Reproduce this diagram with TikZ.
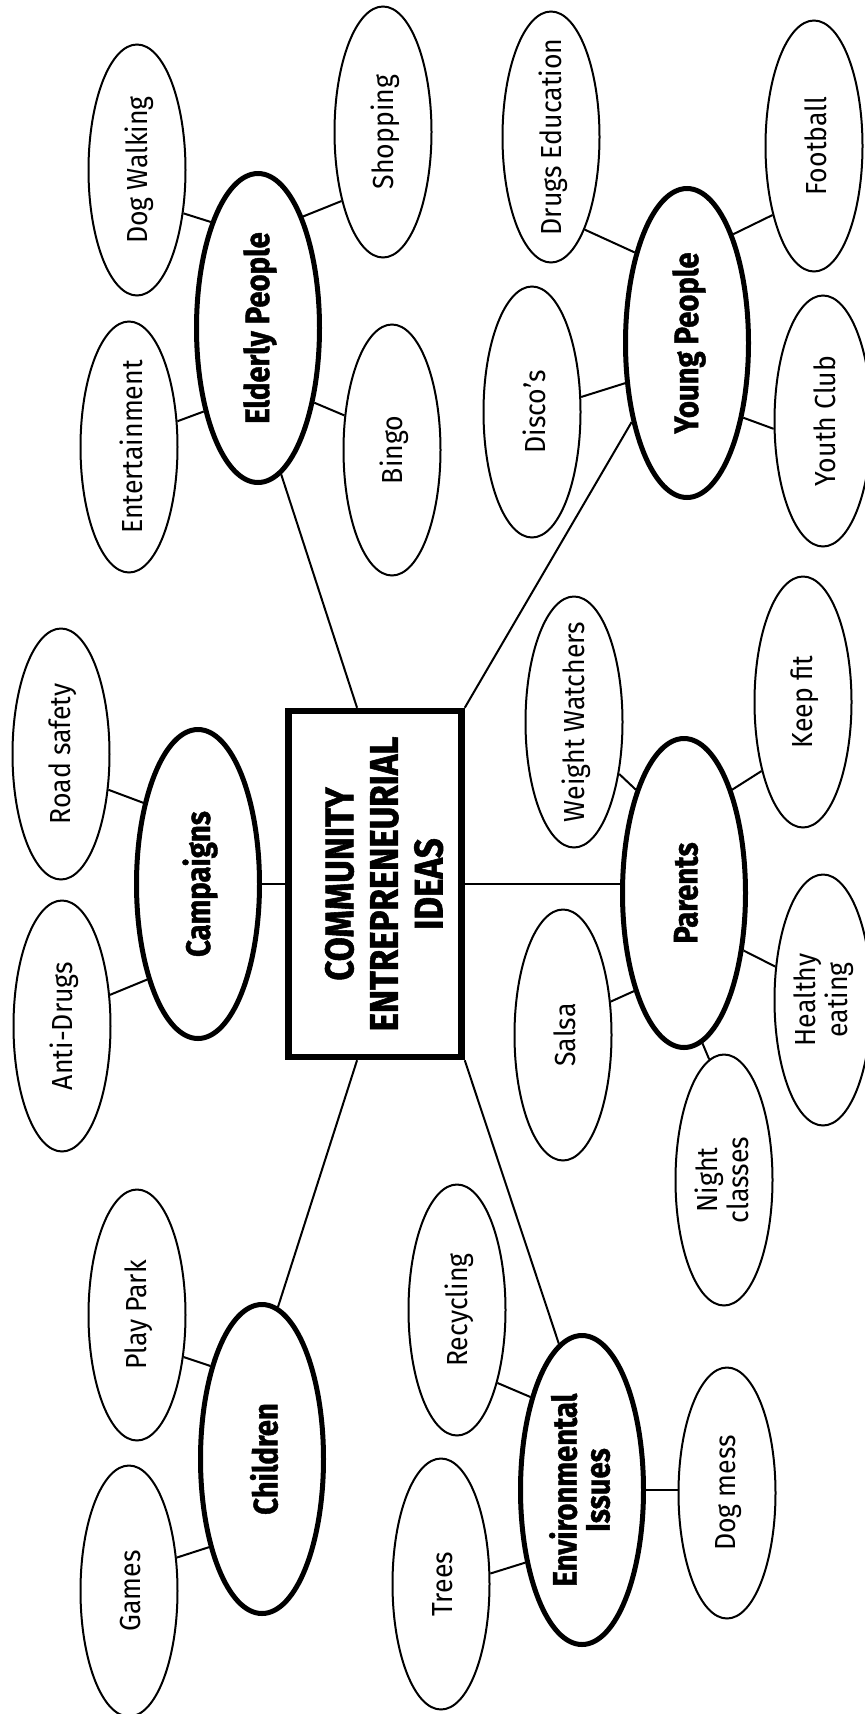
\documentclass[tikz,border=0pt]{standalone}
\usepackage{fontspec}
\usepackage{graphicx}
\setmainfont{Fira Sans}
\newfontfamily\leaffont[FakeStretch=0.92]{Fira Sans}
\newfontfamily\hubfont[FakeStretch=0.86,FakeBold=1.2]{Fira Sans}
\newfontfamily\titlefont[FakeStretch=0.87,FakeBold=1.4]{Fira Sans}
\usetikzlibrary{shapes.geometric,calc}
\newcommand\rtxt[1]{\hspace*{4pt}\rotatebox{90}{\makebox[0pt]{#1}}}
\newcommand\rtwo[2]{\hspace*{4pt}\rotatebox{90}{\makebox[0pt]{\begin{tabular}{@{}c@{}}#1\\#2\end{tabular}}}}
\begin{document}
\begin{tikzpicture}[x=1pt,y=-1pt,
  leaf/.style={ellipse, draw, line width=2pt, minimum width=97pt, minimum height=251pt, inner sep=0pt,
    font=\leaffont\fontsize{29}{29}\selectfont},
  hub/.style={ellipse, draw, line width=5pt, minimum width=123pt, minimum height=309pt, inner sep=0pt,
    font=\hubfont\bfseries\fontsize{34}{31}\selectfont},
  centre/.style={rectangle, draw, line width=6.5pt, minimum width=173pt, minimum height=346pt, inner sep=0pt,
    font=\titlefont\bfseries\fontsize{40}{44.6}\selectfont},
  conn/.style={line width=2pt}]
\fill[white] (0,0) rectangle (865,1714);
\useasboundingbox (0,0) rectangle (865,1714);

% centre
\node[centre] (c) at (375,884) {\hspace*{28pt}\rotatebox{90}{\makebox[0pt]{\begin{tabular}{@{}c@{}}COMMUNITY\\ENTREPRENEURIAL\\IDEAS\end{tabular}}}};

% hubs
\node[hub] (eld) at (258,328) {\rtxt{Elderly People}};
\node[hub] (yp) at (687,343) {\rtxt{Young People}};
\node[hub] (camp) at (198,884) {\rtxt{Campaigns}};
\node[hub] (par) at (684,893) {\rtxt{Parents}};
\node[hub] (ch) at (262,1459) {\rtxt{Children}};
\node[hub] (env) at (582,1490) {\rtwo{Environmental}{Issues}};

% leaves
\node[leaf] (dw) at (137,170) {\rtxt{Dog Walking}};
\node[leaf] (shop) at (383,132) {\rtxt{Shopping}};
\node[leaf] (ent) at (129,447) {\rtxt{Entertainment}};
\node[leaf] (bingo) at (392,450) {\rtxt{Bingo}};

\node[leaf] (de) at (551,137) {\rtxt{Drugs Education}};
\node[leaf] (foot) at (814,146) {\rtxt{Football}};
\node[leaf] (disco) at (532,412) {\rtxt{Disco’s}};
\node[leaf] (yc) at (823,421) {\rtxt{Youth Club}};

\node[leaf] (road) at (61,754) {\rtxt{Road safety}};
\node[leaf] (anti) at (62,1026) {\rtxt{Anti-Drugs}};

\node[leaf] (ww) at (574,722) {\rtxt{Weight Watchers}};
\node[leaf] (keep) at (803,702) {\rtxt{Keep fit}};
\node[leaf] (salsa) at (563,1035) {\rtxt{Salsa}};
\node[leaf] (healthy) at (823,1000) {\rtwo{Healthy}{eating}};
\node[leaf] (night) at (724,1180) {\rtwo{Night}{classes}};

\node[leaf] (pp) at (137,1315) {\rtxt{Play Park}};
\node[leaf] (games) at (129,1591) {\rtxt{Games}};

\node[leaf] (rec) at (457,1310) {\rtxt{Recycling}};
\node[leaf] (trees) at (441,1584) {\rtxt{Trees}};
\node[leaf] (dm) at (727,1493) {\rtxt{Dog mess}};

% centre connectors
\draw[conn] ($(c.north west)!0.4!(c.north east)$) -- (eld.-81);
\draw[conn] (c.north east) -- (yp.-125);
\draw[conn] (c.west) -- (camp.east);
\draw[conn] (c.east) -- (c.east -| par.west);
\draw[conn] ($(c.south west)!0.4!(c.south east)$) -- (ch.84);
\draw[conn] (c.south east) -- (env.99);

% leaf connectors
\draw[conn] (eld.114.6) -- (dw.-43);
\draw[conn] (eld.68) -- (shop.-121);
\draw[conn] (eld.-123) -- (ent.28);
\draw[conn] (eld.-53) -- (bingo.144);

\draw[conn] (yp.120) -- (de.-70);
\draw[conn] (yp.67) -- (foot.-121);
\draw[conn] (yp.-147) -- (disco.17);
\draw[conn] (yp.-53) -- (yc.-171);

\draw[conn] (camp.124) -- (road.-37);
\draw[conn] (camp.-118) -- (anti.33);

\draw[conn] (par.115) -- (ww.-49);
\draw[conn] (par.65.5) -- (keep.-121);
\draw[conn] (par.-117) -- (salsa.35);
\draw[conn] (par.-44) -- (healthy.145);
\draw[conn] (par.-83) -- (night.97.5);

\draw[conn] (ch.119) -- (pp.-42.5);
\draw[conn] (ch.-121) -- (games.35.5);

\draw[conn] (env.119) -- (rec.-61);
\draw[conn] (env.-128) -- (trees.12);
\draw[conn] (env.east) -- (env.east -| dm.west);
\end{tikzpicture}
\end{document}
